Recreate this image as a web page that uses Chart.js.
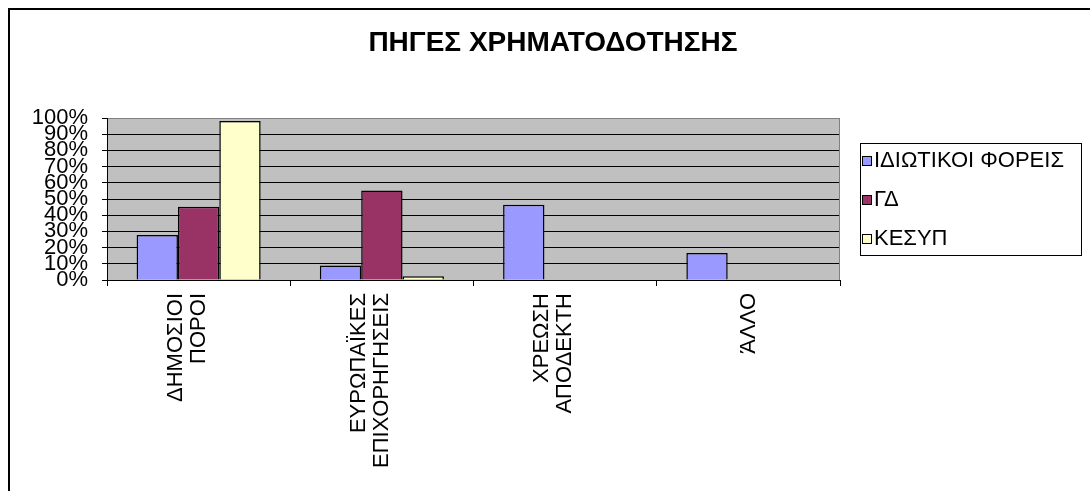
<!DOCTYPE html>
<html>
<head>
<meta charset="utf-8">
<script src="https://cdn.jsdelivr.net/npm/chart.js@4.4.1/dist/chart.umd.min.js"></script>
<style>
    html, body { margin: 0; padding: 0; background: #fff; }
</style>
</head>
<body>
<canvas id="grafico" width="1090" height="491"></canvas>
<script>
// dados
const categorias = [
    ['ΔΗΜΟΣΙΟΙ', 'ΠΟΡΟΙ'],
    ['ΕΥΡΩΠΑΪΚΕΣ', 'ΕΠΙΧΟΡΗΓΗΣΕΙΣ'],
    ['ΧΡΕΩΣΗ', 'ΑΠΟΔΕΚΤΗ'],
    ['', 'ΆΛΛΟ']
]
const series = ['ΙΔΙΩΤΙΚΟΙ ΦΟΡΕΙΣ', 'ΓΔ', 'ΚΕΣΥΠ']
const idiotikoi = [27.8, 8.9, 46.5, 16.7]
const gd = [45.2, 55.3, null, null]
const kesyp = [98.2, 2.3, null, null]
const yTicks = [0, 10, 20, 30, 40, 50, 60, 70, 80, 90, 100]

const fonte = '"Liberation Sans", Arial, sans-serif'

const fundo = {
    id: 'fundo',
    beforeDraw(chart) {
        const { ctx, chartArea: a } = chart
        ctx.save()
        ctx.fillStyle = '#fff'
        ctx.fillRect(0, 0, chart.width, chart.height)
        ctx.fillStyle = '#C0C0C0'
        ctx.fillRect(a.left, a.top, a.right - a.left, a.bottom - a.top)
        ctx.restore()
    },
    afterDraw(chart) {
        const { ctx, chartArea: a } = chart
        ctx.save()
        // moldura exterior
        ctx.fillStyle = '#000'
        ctx.fillRect(8, 8, chart.width, 2)
        ctx.fillRect(8, 8, 2, chart.height)
        // borda direita da área
        ctx.strokeStyle = '#808080'
        ctx.lineWidth = 1
        const xr = Math.round(a.right) - 0.5
        ctx.beginPath()
        ctx.moveTo(xr, a.top)
        ctx.lineTo(xr, a.bottom)
        ctx.stroke()
        // legenda
        ctx.strokeStyle = '#000'
        ctx.strokeRect(860.5, 143.5, 221, 112)
        ctx.font = '22px ' + fonte
        ctx.textBaseline = 'middle'
        ctx.textAlign = 'left'
        chart.data.datasets.forEach((ds, i) => {
            const y = 160 + i * 39
            ctx.fillStyle = ds.backgroundColor
            ctx.fillRect(862, y - 4, 10, 10)
            ctx.strokeRect(862.5, y - 3.5, 9, 9)
            ctx.fillStyle = '#000'
            ctx.fillText(ds.label, 874, y + 1)
        })
        ctx.restore()
    }
}

new Chart(document.getElementById('grafico'), {
    type: 'bar',
    data: {
        labels: categorias,
        datasets: [
            { label: series[0], data: idiotikoi, backgroundColor: '#9999FF' },
            { label: series[1], data: gd, backgroundColor: '#993366' },
            { label: series[2], data: kesyp, backgroundColor: '#FFFFCC' }
        ]
    },
    options: {
        responsive: false,
        animation: false,
        layout: { padding: { left: 16, top: 0, right: 0, bottom: 0 } },
        datasets: {
            bar: { categoryPercentage: 0.677, barPercentage: 1, borderColor: '#000', borderWidth: 1.5 }
        },
        plugins: {
            legend: { display: false },
            tooltip: { enabled: false },
            title: {
                display: true,
                text: 'ΠΗΓΕΣ ΧΡΗΜΑΤΟΔΟΤΗΣΗΣ',
                color: '#000',
                font: { family: fonte, size: 28, weight: 'bold', lineHeight: 1.2 },
                padding: { top: 26, bottom: 58.4 }
            }
        },
        scales: {
            x: {
                grid: { display: true, drawOnChartArea: false, drawTicks: true, tickLength: 6, color: '#000', offset: true },
                border: { color: '#000', width: 1 },
                ticks: {
                    color: '#000',
                    font: { family: fonte, size: 22, lineHeight: 1.05 },
                    minRotation: 90,
                    maxRotation: 90,
                    autoSkip: false,
                    padding: 7,
                    labelOffset: -23
                },
                afterFit: s => { s.height = 211 }
            },
            y: {
                min: 0,
                max: 100,
                afterBuildTicks: s => { s.ticks = yTicks.map(v => ({ value: v })) },
                grid: {
                    color: c => (c.tick && c.tick.value === 100 ? '#808080' : '#000'),
                    tickColor: '#000',
                    tickLength: 5,
                    lineWidth: 1
                },
                border: { color: '#000', width: 1 },
                ticks: {
                    color: '#000',
                    font: { family: fonte, size: 22 },
                    autoSkip: false,
                    padding: 14,
                    callback: v => v + '%'
                },
                afterFit: s => { s.width = 91 }
            },
            lado: {
                position: 'right',
                display: true,
                grid: { display: false },
                border: { display: false },
                ticks: { display: false },
                afterFit: s => { s.width = 250 }
            }
        }
    },
    plugins: [fundo]
})
</script>
</body>
</html>
